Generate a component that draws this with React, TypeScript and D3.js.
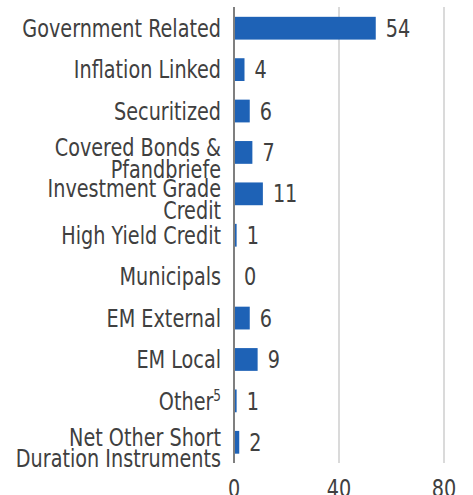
import React from "react";
import * as d3 from "d3";

const categories: string[][] = [
  ["Government Related"],
  ["Inflation Linked"],
  ["Securitized"],
  ["Covered Bonds &", "Pfandbriefe"],
  ["Investment Grade", "Credit"],
  ["High Yield Credit"],
  ["Municipals"],
  ["EM External"],
  ["EM Local"],
  ["Other⁵"],
  ["Net Other Short", "Duration Instruments"],
];
const values: number[] = [54, 4, 6, 7, 11, 1, 0, 6, 9, 1, 2];
const xTicks: number[] = [0, 40, 80];

const W = 473;
const H = 495;
const FONT = "'DejaVu Sans Condensed', 'DejaVu Sans', sans-serif";
const TEXT = "#404040";
const SX = 0.89;

function renderLine(l: string) {
  const m = l.match(/^(.*)⁵$/);
  if (!m) return l;
  return (
    <>
      {m[1]}
      <tspan fontSize={15} dy="-0.55em">5</tspan>
    </>
  );
}

export default function App() {
  const x = d3.scaleLinear().domain([0, 80]).range([234, 444]);
  const y = d3
    .scaleBand<number>()
    .domain(d3.range(values.length))
    .range([7.5, 463])
    .paddingInner(0.45)
    .paddingOuter(0.225);
  const bw = y.bandwidth();
  return (
    <svg
      width={W}
      height={H}
      style={{ position: "absolute", left: 0, top: 0 }}
      fontFamily={FONT}
      fontStretch="condensed"
    >
      {xTicks.slice(1).map((t) => (
        <line key={t} x1={x(t)} x2={x(t)} y1={7} y2={463} stroke="#b5b5b5" strokeWidth={1} />
      ))}
      {values.map((v, i) => {
        const cy = (y(i) as number) + bw / 2;
        return (
          <g key={i}>
            <rect x={x(0)} y={y(i)} width={x(v) - x(0)} height={bw} fill="#1e62b6" />
            <text
              transform={`translate(${x(v) + 10},${cy}) scale(${SX},1)`}
              dy="0.36em"
              fontSize={24}
              fill={TEXT}
            >
              {v}
            </text>
          </g>
        );
      })}
      <line x1={x(0)} x2={x(0)} y1={7} y2={463} stroke="#7f7f7f" strokeWidth={2} />
      {categories.map((lines, i) => {
        const cy = (y(i) as number) + bw / 2;
        const offset = lines.length === 1 ? 0 : -5;
        return (
          <text
            key={i}
            transform={`translate(221,${cy + offset}) scale(${SX},1)`}
            textAnchor="end"
            fontSize={24}
            fill={TEXT}
          >
            {lines.map((l, j) => (
              <tspan key={j} x={0} y={j * 21.5} dy="0.36em">
                {renderLine(l)}
              </tspan>
            ))}
          </text>
        );
      })}
      {xTicks.map((t) => (
        <text
          key={t}
          transform={`translate(${x(t)},495) scale(${SX},1)`}
          textAnchor="middle"
          fontSize={24}
          fill={TEXT}
          dy="0.1em"
        >
          {t}
        </text>
      ))}
    </svg>
  );
}
